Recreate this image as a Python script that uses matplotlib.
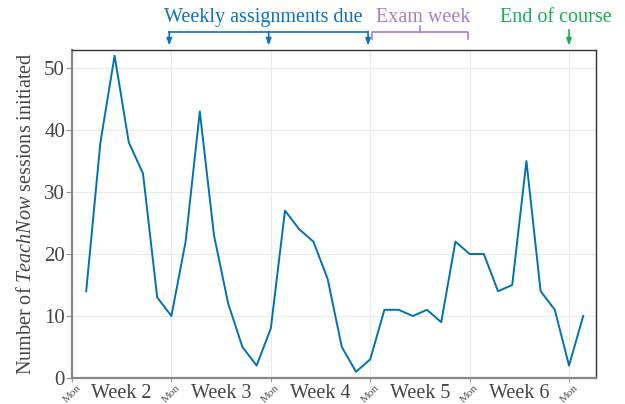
import matplotlib.pyplot as plt
import matplotlib.transforms as mtransforms

# days counted from the Monday that starts week 2
days = list(range(1, 37))
sessions = [14, 38, 52, 38, 33, 13, 10, 22, 43, 23, 12, 5, 2, 8, 27, 24, 22, 16, 5, 1,
            3, 11, 11, 10, 11, 9, 22, 20, 20, 14, 15, 35, 14, 11, 2, 10]
mondays = [0, 7, 14, 21, 28, 35]
week_labels = ['Week 2', 'Week 3', 'Week 4', 'Week 5', 'Week 6']
week_centers = [3.5, 10.5, 17.5, 24.5, 31.5]
assignment_days = [7, 14, 21]
exam_week = (21.15, 27.9)
end_day = 35

blue = '#0a72c4'
purple = '#a67fc9'
green = '#14b150'
grey_text = '#444444'

plt.rcParams['font.family'] = ['Liberation Serif', 'DejaVu Serif']
plt.rcParams['mathtext.fontset'] = 'custom'
plt.rcParams['mathtext.rm'] = 'Liberation Serif'
plt.rcParams['mathtext.it'] = 'Liberation Serif:italic'

fig = plt.figure(figsize=(6.25, 4.04), dpi=100)
ax = fig.add_axes([0.1152, 0.0644, 0.8384, 0.8116])

ax.plot(days, sessions, color='#0072B2', linewidth=1.4)

ax.set_xlim(0, 36.9)
ax.set_ylim(0, 52.9)

# grid
ax.set_yticks([0, 10, 20, 30, 40, 50])
ax.set_xticks(mondays)
ax.grid(True, color='#ebebeb', linewidth=0.8)
ax.set_axisbelow(True)

ax.set_xticklabels(['Mon'] * len(mondays), rotation=45, ha='center', va='top',
                   fontsize=8, color='#555555')
ax.tick_params(axis='x', length=3, color='#999999', pad=1)
ax.tick_params(axis='y', length=4, color='#999999', labelsize=15, labelcolor=grey_text, pad=1)

for s in ['left', 'bottom']:
    ax.spines[s].set_color('#888888')
    ax.spines[s].set_linewidth(1.6)
for s in ['top', 'right']:
    ax.spines[s].set_color('#333333')
    ax.spines[s].set_linewidth(1.0)

ax.set_ylabel('Number of $\\mathit{TeachNow}$ sessions initiated', fontsize=14.5,
              color=grey_text, labelpad=6)

# week labels under the axis
trans = mtransforms.blended_transform_factory(ax.transData, ax.transAxes)
for c, lab in zip(week_centers, week_labels):
    ax.text(c, -0.060, lab, transform=trans, ha='center', va='baseline',
            fontsize=14.5, color=grey_text)

# weekly assignments bracket
yb = 1.055
ax.plot([assignment_days[0] - 0.15, assignment_days[-1] - 0.15], [yb, yb], transform=trans,
        color=blue, linewidth=1.2, clip_on=False)
for d in assignment_days:
    ax.annotate('', xy=(d - 0.15, 1.014), xytext=(d - 0.15, yb + 0.002), xycoords=trans,
                textcoords=trans,
                arrowprops=dict(arrowstyle='-|>,head_length=0.4,head_width=0.15',
                                color=blue, lw=1.2, shrinkA=0, shrinkB=0))
ax.text(13.5, 1.098, 'Weekly assignments due', transform=trans, ha='center', va='center',
        fontsize=14.5, color=blue)

# exam week bracket
x0, x1 = exam_week
xm = 24.5
ax.plot([x0, x0, x1, x1], [1.033, yb, yb, 1.033], transform=trans, color=purple,
        linewidth=1.2, clip_on=False)
ax.plot([xm, xm], [yb, 1.073], transform=trans, color=purple, linewidth=1.2, clip_on=False)
ax.text(24.7, 1.098, 'Exam week', transform=trans, ha='center', va='center',
        fontsize=14.5, color=purple)

# end of course
ax.annotate('', xy=(end_day, 1.014), xytext=(end_day, 1.062), xycoords=trans, textcoords=trans,
            arrowprops=dict(arrowstyle='-|>,head_length=0.4,head_width=0.15',
                            color=green, lw=1.2, shrinkA=0, shrinkB=0))
ax.text(34.1, 1.098, 'End of course', transform=trans, ha='center', va='center',
        fontsize=14.5, color=green)

fig.savefig('out.png', dpi=100)
